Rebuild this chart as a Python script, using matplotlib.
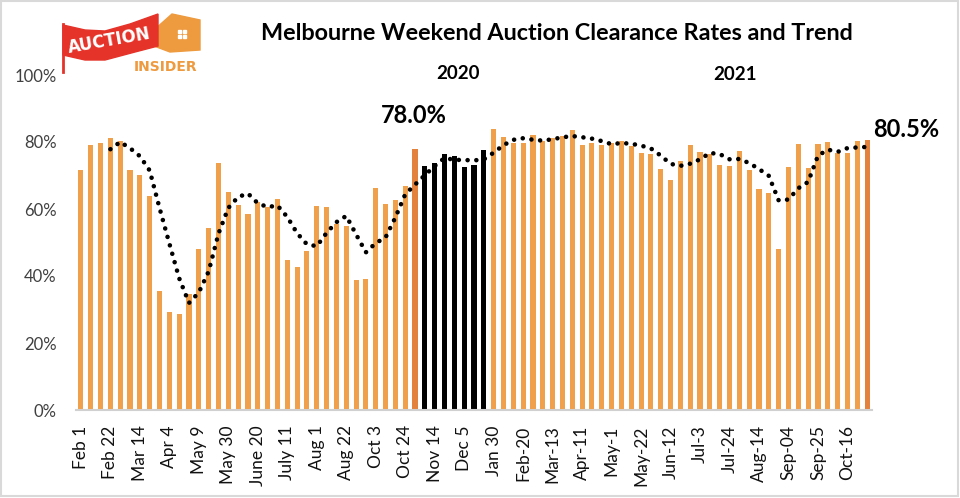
import matplotlib
matplotlib.use("Agg")
import matplotlib.pyplot as plt
import numpy as np
import pandas as pd
from matplotlib.patches import Polygon, Rectangle

# weekly clearance rates (%), Feb 1 2020 .. Oct 30 2021
rates = [
    71.6, 79.0, 79.6, 81.2, 80.2, 71.6, 70.1, 64.0, 35.5, 29.2,
    28.6, 34.5, 48.1, 54.3, 73.7, 65.2, 61.2, 58.4, 62.0, 60.7,
    63.1, 44.7, 42.6, 47.4, 60.9, 60.6, 55.4, 54.8, 38.9, 39.2,
    66.4, 61.5, 62.8, 66.8, 78.0, 72.8, 73.7, 76.4, 75.8, 72.6,
    73.2, 77.7, 83.8, 81.5, 79.6, 79.6, 82.0, 80.4, 81.3, 81.9,
    83.5, 79.0, 79.6, 79.0, 79.8, 80.4, 78.7, 76.8, 76.4, 71.9,
    68.8, 74.4, 79.0, 77.1, 76.4, 73.1, 72.8, 77.4, 71.6, 65.9,
    64.7, 48.1, 72.6, 79.4, 72.2, 79.4, 79.9, 76.7, 76.7, 80.2,
    80.5,
]
# weeks drawn in black (Nov 7 2020 .. Dec 19 2020)
black_weeks = list(range(35, 42))
highlight_weeks = [34, 80]

tick_labels = [
    "Feb 1", "Feb 22", "Mar 14", "Apr 4", "May 9", "May 30", "June 20",
    "July 11", "Aug 1", "Aug 22", "Oct 3", "Oct 24", "Nov 14", "Dec 5",
    "Jan 30", "Feb-20", "Mar-13", "Apr-11", "May-1", "May-22", "Jun-12",
    "Jul-3", "Jul-24", "Aug-14", "Sep-04", "Sep-25", "Oct-16",
]

ORANGE = "#F0A04B"
DARK_ORANGE = "#E2823C"

plt.rcParams["font.family"] = ["Lato", "DejaVu Sans"]

fig = plt.figure(figsize=(9.6, 4.98), dpi=100)
ax = fig.add_axes([76 / 960, 1 - 410 / 498, (872 - 76) / 960, (410 - 75) / 498])

x = np.arange(len(rates))
colors = []
for i in x:
    if i in black_weeks:
        colors.append("black")
    elif i in highlight_weeks:
        colors.append(DARK_ORANGE)
    else:
        colors.append(ORANGE)
ax.bar(x, rates, width=0.52, color=colors, zorder=2)

# 4-week moving average trend, as in the source chart
trend = pd.Series(rates).rolling(4).mean()
ax.plot(x, trend, color="black", linewidth=3.3, linestyle=(0, (0.01, 1.9)),
        dash_capstyle="round", zorder=3)

ax.set_xlim(-0.5, len(rates) - 0.5)
ax.set_ylim(0, 100)
ax.set_yticks(range(0, 101, 20))
ax.set_yticklabels([f"{v}%" for v in range(0, 101, 20)], fontsize=12, color="#404040")
ax.set_xticks(range(0, len(rates), 3))
ax.set_xticklabels(tick_labels, rotation=90, fontsize=12.5, color="#111111")
ax.tick_params(axis="both", length=0)
ax.tick_params(axis="y", pad=14)
ax.tick_params(axis="x", pad=11)
for side in ["left", "right", "top"]:
    ax.spines[side].set_visible(False)
ax.spines["bottom"].set_color("#D0D0D0")
ax.spines["bottom"].set_linewidth(1.5)

fig.text(557 / 960, 1 - 33 / 498, "Melbourne Weekend Auction Clearance Rates and Trend",
         ha="center", va="center", fontsize=16.8, fontweight="bold")
fig.text(458 / 960, 1 - 73 / 498, "2020", ha="center", va="center",
         fontsize=13.5, fontweight="bold")
fig.text(735 / 960, 1 - 75 / 498, "2021", ha="center", va="center",
         fontsize=13.5, fontweight="bold")
ax.annotate("78.0%", (34, rates[34]), xytext=(-1, 24), textcoords="offset points",
            ha="center", va="center", fontsize=17, fontweight="bold")
ax.annotate("80.5%", (80, rates[80]), xytext=(28, 8), textcoords="offset points",
            ha="center", va="center", fontsize=17, fontweight="bold")

# logo drawn in pixel coordinates
lax = fig.add_axes([0, 0, 1, 1], zorder=-1)
lax.set_xlim(0, 960)
lax.set_ylim(498, 0)
lax.axis("off")
lax.add_patch(Rectangle((1, 1), 957, 495, fill=False, edgecolor="#D9D9D9", linewidth=1.5))
house = Polygon([(154, 46), (154, 30), (172, 14), (200, 20), (200, 50), (170, 52)],
                closed=True, color="#EE9A3E")
lax.add_patch(house)
for wx, wy in [(177.5, 29.5), (182.5, 29.5), (177.5, 34.5), (182.5, 34.5)]:
    lax.add_patch(Rectangle((wx, wy), 3.0, 3.0, color="white"))
flag = Polygon([(63, 25), (85, 30), (105, 31), (130, 24), (158, 14),
                (158, 46), (135, 52), (105, 60), (85, 60), (63, 55)],
               closed=True, color="#E5332A")
lax.add_patch(flag)
lax.plot([63, 63], [24, 72], color="#E5332A", linewidth=2)
lax.text(109, 41, "AUCTION", color="white", fontsize=12, fontweight="bold",
         ha="center", va="center", rotation=10, family="DejaVu Sans Condensed")
lax.text(166, 67, "INSIDER", color="#EE9A3E", fontsize=10, fontweight="bold",
         ha="center", va="center", family="DejaVu Sans")

fig.savefig("out.png", dpi=100)
